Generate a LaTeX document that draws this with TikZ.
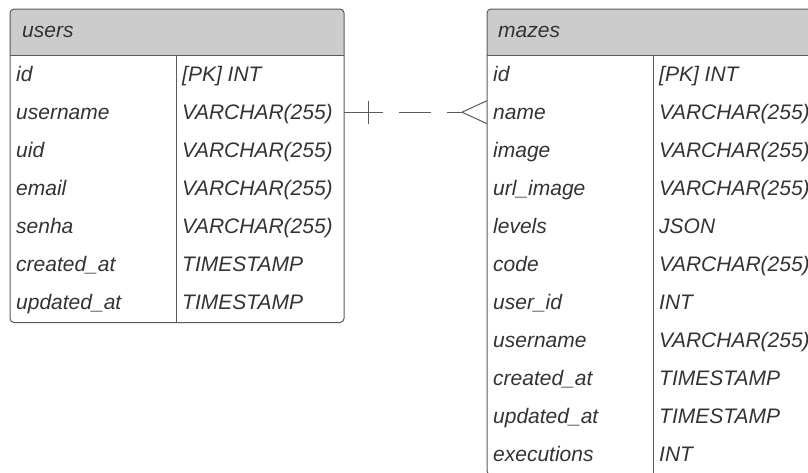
\documentclass[tikz,border=0pt]{standalone}
\usepackage{fontspec}
\setmainfont{Liberation Sans}
\usetikzlibrary{calc}
\definecolor{ink}{HTML}{333333}
\definecolor{rule}{HTML}{5A5A5A}
\definecolor{headfill}{HTML}{CCCCCC}
\tikzset{
  cell/.style={anchor=base west, inner sep=0pt, font=\fontsize{21}{25}\selectfont\itshape, text=ink},
  rowbox/.style={anchor=north west, inner sep=0pt, minimum height=38pt, minimum width=334pt},
  frame/.style={draw=rule, line width=1pt},
  relation/.style={draw=rule, line width=1pt}
}
\begin{document}
\begin{tikzpicture}[x=1pt,y=-1pt]
\useasboundingbox (0,0) rectangle (808,472);
\clip (0,0) rectangle (808,472);

% ---------- users ----------
\begin{scope}
  \clip[rounded corners=4pt] (10,9) rectangle (344,322.5);
  \fill[headfill] (10,9) rectangle (344,55);
\end{scope}
\draw[frame, rounded corners=4pt] (10,9) rectangle (344,322.5);
\draw[frame] (10,55) -- (344,55);
\draw[frame] (176,55) -- (176,322.5);
\node[cell] (users-title) at (22,37) {users};
\foreach \fname/\ftype [count=\i] in {id/{[PK] INT}, username/VARCHAR(255), uid/VARCHAR(255),
    email/VARCHAR(255), senha/VARCHAR(255), created\_at/TIMESTAMP, updated\_at/TIMESTAMP} {
  \node[rowbox] (u-\i) at (10,{55+38*(\i-1)}) {};
  \node[cell] (u-\i-name) at ($(u-\i.west)+(6,7.5)$) {\fname};
  \node[cell] (u-\i-type) at ($(u-\i.west)+(172,7.5)$) {\ftype};
}

% ---------- mazes ----------
\begin{scope}
  \clip[rounded corners=4pt] (487,9) rectangle (821,475);
  \fill[headfill] (487,9) rectangle (821,55);
\end{scope}
\draw[frame, rounded corners=4pt] (487,9) rectangle (821,475);
\draw[frame] (487,55) -- (821,55);
\draw[frame] (653,55) -- (653,475);
\node[cell] (mazes-title) at (498,37) {mazes};
\foreach \fname/\ftype [count=\i] in {id/{[PK] INT}, name/VARCHAR(255), image/VARCHAR(255),
    url\_image/VARCHAR(255), levels/JSON, code/VARCHAR(255), user\_id/INT,
    username/VARCHAR(255), created\_at/TIMESTAMP, updated\_at/TIMESTAMP, executions/INT} {
  \node[rowbox] (m-\i) at (487,{55+38*(\i-1)}) {};
  \node[cell] (m-\i-name) at ($(m-\i.west)+(6,7.5)$) {\fname};
  \node[cell] (m-\i-type) at ($(m-\i.west)+(172,7.5)$) {\ftype};
}

% ---------- relation: one users -> many mazes ----------
\coordinate (crow) at ($(m-2.west)+(-25,0)$);
\draw[relation, dash pattern=on 39pt off 16pt on 32pt off 16pt on 15pt] (u-2.east) -- (crow);
\draw[relation] ($(u-2.east)+(24,-11.5)$) -- ($(u-2.east)+(24,11.5)$);
\draw[relation] ($(m-2.west)+(0,-11.5)$) -- (crow) -- ($(m-2.west)+(0,11.5)$);
\end{tikzpicture}
\end{document}
